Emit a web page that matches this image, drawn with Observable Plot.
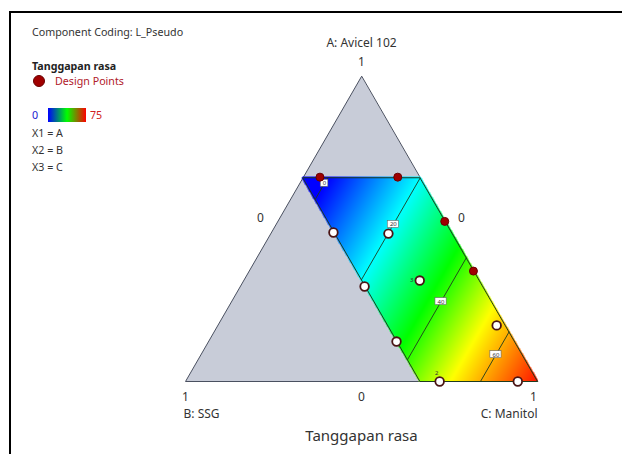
<!DOCTYPE html>
<html><head><meta charset="utf-8">
<script src="https://cdn.jsdelivr.net/npm/d3@7"></script>
<script src="https://cdn.jsdelivr.net/npm/@observablehq/plot@0.6"></script>
<style>
html,body{margin:0;padding:0;width:622px;height:454px;overflow:hidden;background:#fff;font-family:"Noto Sans","Open Sans",sans-serif;}
#wrap{position:relative;width:622px;height:454px;overflow:hidden;background:#fff;}
#frame{position:absolute;left:9px;top:11px;width:700px;height:600px;border-top:2px solid #000;border-left:2px solid #000;pointer-events:none;}
.t{position:absolute;font-size:10.7px;color:#333;white-space:nowrap;line-height:12px;}
#chart{position:absolute;left:0;top:0;}
</style></head>
<body>
<div id="wrap">
  <div id="chart"></div>
  <div id="frame"></div>
  <div class="t" style="left:32px;top:26px;">Component Coding: L_Pseudo</div>
  <div class="t" style="left:32px;top:60px;font-weight:bold;color:#222;">Tanggapan rasa</div>
  <div style="position:absolute;left:33px;top:75px;width:12px;height:12px;border-radius:50%;background:#a00000;box-sizing:border-box;border:1px solid #6a0000;"></div>
  <div class="t" style="left:55px;top:75px;color:#b0202a;">Design Points</div>
  <div class="t" style="left:32px;top:109px;color:#2020d0;">0</div>
  <div style="position:absolute;left:48px;top:108px;width:38px;height:14px;background:linear-gradient(to right,#0000ff,#00ff00,#ff0000);"></div>
  <div class="t" style="left:90px;top:109px;color:#d02020;">75</div>
  <div class="t" style="left:32px;top:127px;">X1 = A</div>
  <div class="t" style="left:32px;top:144px;">X2 = B</div>
  <div class="t" style="left:32px;top:161px;">X3 = C</div>
</div>
<script>
// ---- data ----
const vertexLabels = ["A: Avicel 102", "B: SSG", "C: Manitol"];
const responseTitle = "Tanggapan rasa";
// constrained region (component fractions, L_Pseudo)
const regionA = [0.668, 0.668, 0, 0];
const regionB = [0.332, 0, 0, 0.333];
const regionC = [0, 0.332, 1, 0.667];
// contour levels and where they sit along C
const contourLevels = [0, 20, 40, 60];
const contourC = [0.07, 0.333, 0.595, 0.838];
const contourLabelA = [0.65, 0.515, 0.262, 0.088];
// colour scale stops
const colorDomain = [0, 20, 37, 53, 75];
const colorRange = ["#0000ff", "#00ffff", "#00ff00", "#ffff00", "#ff0000"];
// design points
const pointA = [0.670, 0.670, 0.525, 0.362, 0.4885, 0.485, 0.331, 0.3115, 0.131, 0.184, 0, 0];
const pointC = [0.047, 0.268, 0.474, 0.637, 0.176, 0.334, 0.500, 0.353, 0.534, 0.792, 0.722, 0.944];
const pointKind = ["red","red","red","red","open","open","open","open","open","open","open","open"];
const pointRep = ["","","","","","","3","","","","2",""];

// ---- helpers ----
const H = Math.sqrt(3) / 2;
const PX = 352; // pixels per unit on both axes
const toXY = (a, c) => ({X: c + a / 2, Y: a * H});
const aMax = d3.max(regionA), bMax = d3.max(regionB);
const resp = d3.scaleLinear().domain(contourC).range(contourLevels);

const full = [toXY(1, 0), toXY(0, 0), toXY(0, 1)];
const region = regionA.map((a, i) => toXY(a, regionC[i]));

const contourLines = [];
contourLevels.forEach((lv, i) => {
  const c = contourC[i];
  const aTop = Math.min(aMax, 1 - c), aBot = Math.max(0, 1 - c - bMax);
  contourLines.push({...toXY(aTop, c), lv}, {...toXY(aBot, c), lv});
});
const contourLabels = contourLevels.map((lv, i) => {
  const p = toXY(contourLabelA[i], contourC[i]);
  const w = (String(lv).length * 3.6 + 4) / PX, h = 7 / PX;
  return {...p, lv: String(lv), x1: p.X - w / 2, x2: p.X + w / 2, y1: p.Y - h / 2, y2: p.Y + h / 2};
});
const points = pointA.map((a, i) => ({...toXY(a, pointC[i]), kind: pointKind[i], rep: pointRep[i]}));

const field = (X, Y) => {
  const a = Y / H, c = X - a / 2, b = 1 - a - c, e = 0.004;
  if (a < -e || b < -e || c < -e || a > aMax + e || b > bMax + e) return NaN;
  return resp(c);
};

// label anchored to a ternary location, shifted by a pixel offset
const lab = (a, c, t, dx, dy, anchor) => {
  const p = toXY(a, c);
  return {X: p.X + dx / PX, Y: p.Y - dy / PX, t, anchor};
};
const vtx = [
  lab(1, 0, "1", 0, -14, "middle"),
  lab(1, 0, vertexLabels[0], 0, -33, "middle"),
  lab(0.5, 0, "0", -13, -11, "middle"),
  lab(0.5, 0.5, "0", 12, -11, "middle"),
  lab(0, 0, "1", 0, 16, "middle"),
  lab(0, 0.5, "0", 0, 16, "middle"),
  lab(0, 1, "1", -4, 16, "middle"),
  lab(0, 0, vertexLabels[1], -2, 33, "start"),
  lab(0, 1, vertexLabels[2], 0, 33, "end")
];
const title = [lab(0, 0.5, responseTitle, 0, 55, "middle")];

const chart = Plot.plot({
  width: 622, height: 454,
  marginLeft: 185, marginRight: 85, marginTop: 76, marginBottom: 73,
  x: {domain: [0, 1], axis: null},
  y: {domain: [0, H], axis: null},
  color: {type: "linear", domain: colorDomain, range: colorRange, clamp: true},
  style: {fontFamily: "Noto Sans, Open Sans, sans-serif", background: "transparent"},
  marks: [
    Plot.line(full, {x: "X", y: "Y", curve: "linear-closed", fill: "#c8ccd8", stroke: "#4a5060", strokeWidth: 1}),
    Plot.raster({x1: 0, x2: 1, y1: 0, y2: H, fill: field, pixelSize: 1}),
    Plot.line(region, {x: "X", y: "Y", curve: "linear-closed", stroke: "#1e3a1e", strokeWidth: 1}),
    Plot.line(contourLines, {x: "X", y: "Y", z: "lv", stroke: "#1e3a1e", strokeWidth: 0.9}),
    Plot.rect(contourLabels, {x1: "x1", x2: "x2", y1: "y1", y2: "y2", fill: "white", stroke: "#666", strokeWidth: 0.6}),
    Plot.text(contourLabels, {x: "X", y: "Y", text: "lv", fontSize: 6, fill: "#333"}),
    Plot.dot(points.filter(d => d.kind === "open"), {x: "X", y: "Y", r: 4.3, fill: "white", stroke: "#4a1414", strokeWidth: 1.8}),
    Plot.dot(points.filter(d => d.kind === "red"), {x: "X", y: "Y", r: 4, fill: "#a00000", stroke: "#6a0000", strokeWidth: 1}),
    Plot.text(points.filter(d => d.rep === "3"), {x: "X", y: "Y", text: "rep", dx: -8, fontSize: 6, fill: "#333"}),
    Plot.text(points.filter(d => d.rep === "2"), {x: "X", y: "Y", text: "rep", dx: -3, dy: -8, fontSize: 6, fill: "#333"}),
    Plot.text(vtx.filter(d => d.anchor === "middle"), {x: "X", y: "Y", text: "t", textAnchor: "middle", fontSize: 12, lineHeight: 1, fill: "#333"}),
    Plot.text(vtx.filter(d => d.anchor === "start"), {x: "X", y: "Y", text: "t", textAnchor: "start", fontSize: 12, fill: "#333"}),
    Plot.text(vtx.filter(d => d.anchor === "end"), {x: "X", y: "Y", text: "t", textAnchor: "end", fontSize: 12, fill: "#333"}),
    Plot.text(title, {x: "X", y: "Y", text: "t", fontSize: 15, fill: "#333"})
  ]
});
document.getElementById("chart").appendChild(chart);
</script>
</body></html>
